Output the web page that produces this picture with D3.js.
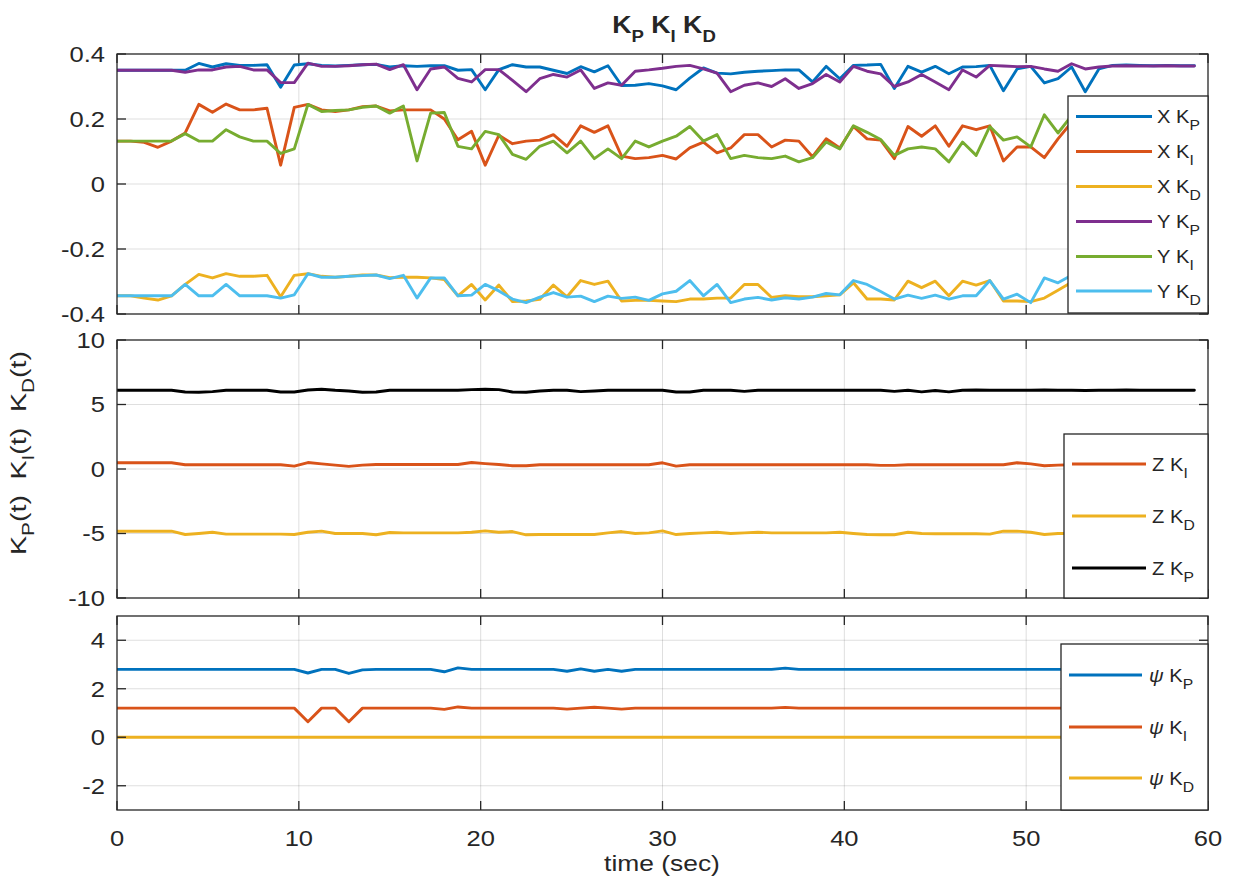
<!DOCTYPE html>
<html>
<head>
<meta charset="utf-8">
<script src="https://cdn.jsdelivr.net/npm/d3@7"></script>
<style>
  html, body { margin: 0; padding: 0; background: #fff; }
  svg { display: block; font-family: "Liberation Sans", Arial, Helvetica, sans-serif; }
</style>
</head>
<body>
<svg id="chart" width="1233" height="878"></svg>
<script>
// Gain schedules sampled every 0.75 s (80 samples, 0 .. 59.25 s)
const SAMPLE_PERIOD = 0.75;

// X / Y channel gains
const xKP = [0.350,0.350,0.350,0.350,0.350,0.350,0.371,0.360,0.370,0.365,
             0.365,0.367,0.298,0.366,0.370,0.365,0.363,0.365,0.367,0.368,
             0.360,0.364,0.362,0.364,0.364,0.350,0.352,0.290,0.352,0.367,
             0.360,0.360,0.350,0.340,0.361,0.345,0.364,0.303,0.304,0.309,
             0.302,0.290,0.326,0.357,0.341,0.339,0.344,0.347,0.349,0.351,
             0.351,0.314,0.362,0.324,0.365,0.366,0.368,0.294,0.362,0.344,
             0.362,0.339,0.360,0.361,0.365,0.287,0.354,0.362,0.311,0.324,
             0.360,0.284,0.354,0.365,0.366,0.365,0.364,0.365,0.364,0.364];
const xKI = [0.132,0.132,0.128,0.113,0.132,0.157,0.245,0.221,0.246,0.228,
             0.228,0.233,0.058,0.236,0.245,0.228,0.223,0.228,0.238,0.240,
             0.225,0.228,0.228,0.228,0.200,0.136,0.162,0.058,0.150,0.124,
             0.132,0.135,0.152,0.116,0.179,0.159,0.179,0.086,0.078,0.081,
             0.088,0.077,0.111,0.129,0.096,0.111,0.152,0.152,0.114,0.135,
             0.132,0.084,0.139,0.111,0.177,0.139,0.135,0.078,0.177,0.147,
             0.179,0.116,0.179,0.167,0.179,0.071,0.114,0.114,0.081,0.139,
             0.190,0.172,0.151,0.163,0.180,0.168,0.150,0.161,0.172,0.160];
const xKD = [-0.344,-0.344,-0.351,-0.357,-0.344,-0.309,-0.278,-0.289,-0.276,-0.284,
             -0.284,-0.281,-0.347,-0.281,-0.276,-0.284,-0.287,-0.284,-0.280,-0.280,
             -0.288,-0.287,-0.287,-0.289,-0.294,-0.344,-0.309,-0.357,-0.311,-0.362,
             -0.360,-0.355,-0.311,-0.347,-0.297,-0.309,-0.299,-0.360,-0.358,-0.358,
             -0.360,-0.362,-0.354,-0.354,-0.351,-0.351,-0.309,-0.309,-0.349,-0.344,
             -0.347,-0.347,-0.344,-0.341,-0.304,-0.354,-0.354,-0.357,-0.299,-0.319,
             -0.299,-0.344,-0.299,-0.311,-0.297,-0.360,-0.360,-0.362,-0.351,-0.327,
             -0.302,-0.311,-0.322,-0.305,-0.298,-0.314,-0.326,-0.309,-0.301,-0.312];
const yKP = [0.350,0.350,0.350,0.350,0.350,0.344,0.351,0.351,0.360,0.362,
             0.351,0.351,0.312,0.312,0.372,0.362,0.362,0.364,0.367,0.369,
             0.352,0.367,0.290,0.354,0.360,0.325,0.314,0.352,0.352,0.319,
             0.284,0.324,0.337,0.329,0.351,0.294,0.311,0.304,0.347,0.351,
             0.356,0.362,0.365,0.354,0.341,0.284,0.304,0.311,0.300,0.324,
             0.294,0.309,0.337,0.314,0.362,0.347,0.339,0.300,0.314,0.337,
             0.314,0.290,0.351,0.329,0.365,0.363,0.361,0.362,0.354,0.347,
             0.370,0.354,0.360,0.363,0.364,0.363,0.363,0.364,0.363,0.363];
const yKI = [0.132,0.132,0.132,0.132,0.132,0.155,0.132,0.132,0.167,0.145,
             0.132,0.132,0.094,0.108,0.245,0.223,0.226,0.228,0.236,0.240,
             0.218,0.240,0.071,0.218,0.220,0.116,0.108,0.162,0.152,0.091,
             0.076,0.116,0.132,0.096,0.132,0.078,0.108,0.078,0.132,0.114,
             0.132,0.147,0.177,0.132,0.152,0.078,0.088,0.081,0.078,0.086,
             0.068,0.081,0.129,0.108,0.179,0.159,0.137,0.088,0.108,0.114,
             0.108,0.068,0.129,0.088,0.177,0.135,0.145,0.114,0.213,0.157,
             0.210,0.196,0.183,0.201,0.188,0.176,0.192,0.185,0.178,0.190];
const yKD = [-0.344,-0.344,-0.344,-0.344,-0.344,-0.309,-0.344,-0.344,-0.309,-0.344,
             -0.344,-0.344,-0.351,-0.341,-0.276,-0.287,-0.287,-0.284,-0.282,-0.280,
             -0.291,-0.281,-0.351,-0.289,-0.289,-0.344,-0.342,-0.309,-0.329,-0.354,
             -0.365,-0.348,-0.334,-0.348,-0.345,-0.362,-0.345,-0.352,-0.348,-0.358,
             -0.338,-0.330,-0.297,-0.344,-0.309,-0.365,-0.354,-0.349,-0.357,-0.350,
             -0.354,-0.348,-0.337,-0.341,-0.297,-0.309,-0.331,-0.354,-0.342,-0.352,
             -0.342,-0.354,-0.344,-0.344,-0.297,-0.354,-0.339,-0.365,-0.289,-0.304,
             -0.281,-0.296,-0.310,-0.289,-0.301,-0.318,-0.295,-0.306,-0.299,-0.308];

// Z channel gains
const zKP = [6.10,6.10,6.10,6.10,6.10,5.97,5.95,6.00,6.10,6.10,
             6.10,6.10,5.97,5.97,6.12,6.18,6.10,6.05,5.95,5.97,
             6.10,6.10,6.10,6.10,6.10,6.10,6.15,6.18,6.15,5.97,
             5.95,6.05,6.10,6.10,6.00,6.05,6.10,6.10,6.10,6.10,
             6.10,5.97,5.97,6.10,6.10,6.10,6.02,6.10,6.10,6.10,
             6.10,6.10,6.10,6.10,6.10,6.10,6.10,6.02,6.10,5.98,
             6.08,5.98,6.10,6.12,6.10,6.10,6.10,6.10,6.12,6.10,
             6.10,6.08,6.10,6.10,6.12,6.10,6.10,6.10,6.10,6.10];
const zKI = [0.48,0.48,0.48,0.48,0.48,0.33,0.33,0.33,0.33,0.33,
             0.33,0.33,0.33,0.22,0.50,0.40,0.30,0.20,0.30,0.35,
             0.35,0.35,0.35,0.35,0.35,0.35,0.50,0.42,0.35,0.25,
             0.25,0.33,0.33,0.33,0.33,0.33,0.33,0.33,0.33,0.33,
             0.48,0.22,0.33,0.33,0.33,0.33,0.33,0.33,0.33,0.33,
             0.33,0.33,0.33,0.33,0.33,0.33,0.28,0.28,0.33,0.33,
             0.33,0.33,0.33,0.33,0.33,0.33,0.48,0.40,0.25,0.30,
             0.33,0.33,0.33,0.33,0.33,0.33,0.33,0.33,0.33,0.33];
const zKD = [-4.82,-4.82,-4.82,-4.82,-4.82,-5.08,-5.00,-4.90,-5.05,-5.05,
             -5.05,-5.05,-5.05,-5.08,-4.90,-4.82,-5.00,-5.00,-5.00,-5.10,
             -4.92,-4.95,-4.95,-4.95,-4.95,-4.95,-4.90,-4.80,-4.90,-4.85,
             -5.10,-5.08,-5.08,-5.08,-5.08,-5.08,-4.95,-4.85,-5.00,-4.95,
             -4.80,-5.08,-5.00,-4.95,-4.90,-5.00,-4.95,-4.90,-4.95,-4.95,
             -4.95,-4.95,-4.95,-4.90,-5.00,-5.08,-5.10,-5.10,-4.90,-5.00,
             -5.02,-5.02,-5.02,-5.02,-5.05,-4.82,-4.82,-4.90,-5.08,-5.00,
             -5.00,-5.00,-5.00,-5.00,-5.00,-5.00,-5.00,-5.00,-5.00,-5.00];

// Yaw (psi) channel gains
const psiKP = [2.80,2.80,2.80,2.80,2.80,2.80,2.80,2.80,2.80,2.80,
               2.80,2.80,2.80,2.80,2.65,2.80,2.80,2.63,2.78,2.80,
               2.80,2.80,2.80,2.80,2.70,2.86,2.80,2.80,2.80,2.80,
               2.80,2.80,2.80,2.72,2.82,2.72,2.80,2.72,2.80,2.80,
               2.80,2.80,2.80,2.80,2.80,2.80,2.80,2.80,2.80,2.85,
               2.80,2.80,2.80,2.80,2.80,2.80,2.80,2.80,2.80,2.80,
               2.80,2.80,2.80,2.80,2.80,2.80,2.80,2.80,2.80,2.80,
               2.80,2.80,2.80,2.80,2.80,2.80,2.80,2.80,2.80,2.80];
const psiKI = [1.20,1.20,1.20,1.20,1.20,1.20,1.20,1.20,1.20,1.20,
               1.20,1.20,1.20,1.20,0.64,1.20,1.20,0.64,1.20,1.20,
               1.20,1.20,1.20,1.20,1.15,1.25,1.20,1.20,1.20,1.20,
               1.20,1.20,1.20,1.16,1.20,1.24,1.20,1.16,1.20,1.20,
               1.20,1.20,1.20,1.20,1.20,1.20,1.20,1.20,1.20,1.23,
               1.20,1.20,1.20,1.20,1.20,1.20,1.20,1.20,1.20,1.20,
               1.20,1.20,1.20,1.20,1.20,1.20,1.20,1.20,1.20,1.20,
               1.20,1.20,1.20,1.20,1.20,1.20,1.20,1.20,1.20,1.20];
const psiKD = [0,0,0,0,0,0,0,0,0,0, 0,0,0,0,0,0,0,0,0,0,
               0,0,0,0,0,0,0,0,0,0, 0,0,0,0,0,0,0,0,0,0,
               0,0,0,0,0,0,0,0,0,0, 0,0,0,0,0,0,0,0,0,0,
               0,0,0,0,0,0,0,0,0,0, 0,0,0,0,0,0,0,0,0,0];

// Axis ticks
const timeTicks = [0, 10, 20, 30, 40, 50, 60];
const xyTicks = [-0.4, -0.2, 0, 0.2, 0.4];
const zTicks = [-10, -5, 0, 5, 10];
const psiTicks = [-2, 0, 2, 4];

// ---------------------------------------------------------------------------
const INK = "#262626";
const C = {
  blue: "#0072BD", red: "#D95319", yellow: "#EDB120",
  purple: "#7E2F8E", green: "#77AC30", cyan: "#4DBEEE", black: "#000000"
};
const SX = 1.16;          // horizontal stretch applied to every label
const TICK_FS = 22;
const LINE_W = 2.9;

const svg = d3.select("#chart");
const x = d3.scaleLinear().domain([0, 60]).range([117, 1208]);
const time = xKP.map((_, i) => i * SAMPLE_PERIOD);

// Text made of plain and subscript runs
function richText(parent, px, py, pieces, opt) {
  const fs = opt.size;
  const subFs = opt.subSize || Math.round(fs * 0.72);
  const drop = opt.drop != null ? opt.drop : fs * 0.36;
  const tf = `translate(${px},${py})` + (opt.rotate ? ` rotate(${opt.rotate})` : "") +
             ` scale(${opt.sx || SX},1)`;
  const t = parent.append("text")
    .attr("transform", tf)
    .attr("text-anchor", opt.anchor || "start")
    .attr("font-size", fs)
    .attr("font-weight", opt.weight || "normal")
    .attr("fill", opt.color || INK);
  let lowered = false;
  pieces.forEach(p => {
    const s = t.append("tspan").text(p.t);
    if (p.sub) {
      s.attr("font-size", subFs);
      if (!lowered) { s.attr("dy", drop); lowered = true; }
    } else if (lowered) {
      s.attr("dy", -drop); lowered = false;
    }
    if (p.dx) s.attr("dx", p.dx);
    if (p.italic) s.attr("font-style", "italic");
  });
  return t;
}

const panels = [
  {
    id: "xy", top: 54, bottom: 314, domain: [-0.4, 0.4], ticks: xyTicks,
    series: [
      { v: xKP, c: C.blue,   n: "X", s: "P" },
      { v: xKI, c: C.red,    n: "X", s: "I" },
      { v: xKD, c: C.yellow, n: "X", s: "D" },
      { v: yKP, c: C.purple, n: "Y", s: "P" },
      { v: yKI, c: C.green,  n: "Y", s: "I" },
      { v: yKD, c: C.cyan,   n: "Y", s: "D" }
    ],
    legend: { x0: 1068, x1: 1208, y0: 96, y1: 313, lx0: 1076, lx1: 1152, tx: 1157,
              rows: [116.5, 151.5, 186.5, 221.5, 256.5, 291], order: [0, 1, 2, 3, 4, 5] }
  },
  {
    id: "z", top: 340, bottom: 598, domain: [-10, 10], ticks: zTicks,
    series: [
      { v: zKI, c: C.red,    n: "Z", s: "I" },
      { v: zKD, c: C.yellow, n: "Z", s: "D" },
      { v: zKP, c: C.black,  n: "Z", s: "P" }
    ],
    legend: { x0: 1064, x1: 1208, y0: 434, y1: 598, lx0: 1072, lx1: 1146, tx: 1152,
              rows: [464, 516, 568], order: [0, 1, 2] }
  },
  {
    id: "psi", top: 616, bottom: 810, domain: [-3, 5], ticks: psiTicks,
    series: [
      { v: psiKP, c: C.blue,   n: "\u03C8", s: "P", greek: true },
      { v: psiKI, c: C.red,    n: "\u03C8", s: "I", greek: true },
      { v: psiKD, c: C.yellow, n: "\u03C8", s: "D", greek: true }
    ],
    legend: { x0: 1061, x1: 1208, y0: 644, y1: 810, lx0: 1069, lx1: 1142, tx: 1149,
              rows: [675, 727, 778], order: [0, 1, 2] },
    xLabels: true
  }
];

panels.forEach(p => {
  const y = d3.scaleLinear().domain(p.domain).range([p.bottom, p.top]);
  const g = svg.append("g");
  const [L, R] = x.range();

  g.append("clipPath").attr("id", "clip-" + p.id)
    .append("rect").attr("x", L).attr("y", p.top).attr("width", R - L).attr("height", p.bottom - p.top);

  // grid
  const grid = g.append("g").attr("stroke", INK).attr("stroke-opacity", 0.15).attr("stroke-width", 1);
  timeTicks.filter(t => t > 0 && t < 60).forEach(t => {
    grid.append("line").attr("x1", x(t)).attr("x2", x(t)).attr("y1", p.top).attr("y2", p.bottom);
  });
  p.ticks.filter(t => t > p.domain[0] && t < p.domain[1]).forEach(t => {
    grid.append("line").attr("x1", L).attr("x2", R).attr("y1", y(t)).attr("y2", y(t));
  });

  // data
  const line = d3.line().x((d, i) => x(time[i])).y(d => y(d));
  const lines = g.append("g").attr("clip-path", `url(#clip-${p.id})`);
  p.series.forEach(s => {
    lines.append("path").datum(s.v).attr("d", line)
      .attr("fill", "none").attr("stroke", s.c).attr("stroke-width", LINE_W)
      .attr("stroke-linejoin", "round").attr("stroke-linecap", "round");
  });

  // axes box and ticks (mirrored on all four sides)
  const ax = g.append("g").attr("stroke", INK).attr("stroke-width", 1.3);
  ax.append("rect").attr("x", L).attr("y", p.top).attr("width", R - L).attr("height", p.bottom - p.top)
    .attr("fill", "none");
  const TL = 9;
  timeTicks.forEach(t => {
    ax.append("line").attr("x1", x(t)).attr("x2", x(t)).attr("y1", p.bottom).attr("y2", p.bottom - TL);
    ax.append("line").attr("x1", x(t)).attr("x2", x(t)).attr("y1", p.top).attr("y2", p.top + TL);
  });
  p.ticks.forEach(t => {
    ax.append("line").attr("x1", L).attr("x2", L + TL).attr("y1", y(t)).attr("y2", y(t));
    ax.append("line").attr("x1", R).attr("x2", R - TL).attr("y1", y(t)).attr("y2", y(t));
  });

  // y tick labels
  p.ticks.forEach(t => {
    richText(g, L - 12, y(t) + TICK_FS * 0.36, [{ t: String(t) }], { size: TICK_FS, anchor: "end" });
  });

  if (p.xLabels) {
    timeTicks.forEach(t => {
      richText(g, x(t), p.bottom + 36, [{ t: String(t) }], { size: TICK_FS, anchor: "middle" });
    });
  }

  // legend
  const lg = p.legend;
  const leg = g.append("g");
  leg.append("rect").attr("x", lg.x0).attr("y", lg.y0).attr("width", lg.x1 - lg.x0).attr("height", lg.y1 - lg.y0)
    .attr("fill", "#fff").attr("stroke", INK).attr("stroke-width", 1.3);
  lg.order.forEach((si, k) => {
    const s = p.series[si];
    const ry = lg.rows[k];
    leg.append("line").attr("x1", lg.lx0).attr("x2", lg.lx1).attr("y1", ry).attr("y2", ry)
      .attr("stroke", s.c).attr("stroke-width", LINE_W);
    richText(leg, lg.tx, ry + 6.5,
      [{ t: s.n, italic: !!s.greek }, { t: " K" }, { t: s.s, sub: true }],
      { size: 18, subSize: 14, drop: 7, sx: 1.12 });
  });
});

// title
richText(svg, 664, 33, [{ t: "K" }, { t: "P", sub: true }, { t: " K" }, { t: "I", sub: true }, { t: " K" }, { t: "D", sub: true }],
  { size: 23, subSize: 16, drop: 9, weight: "bold", anchor: "middle" });

// x label
richText(svg, 662, 871, [{ t: "time (sec)" }], { size: 22, anchor: "middle", sx: 1.2 });

// y label, running bottom to top beside the middle panel
richText(svg, 26, 453,
  [{ t: "K" }, { t: "P", sub: true }, { t: "(t)" }, { t: "K", dx: 12 }, { t: "I", sub: true }, { t: "(t)" },
   { t: "K", dx: 12 }, { t: "D", sub: true }, { t: "(t)" }],
  { size: 22, subSize: 16, drop: 8, anchor: "middle", rotate: -90, sx: 1.3 });
</script>
</body>
</html>
